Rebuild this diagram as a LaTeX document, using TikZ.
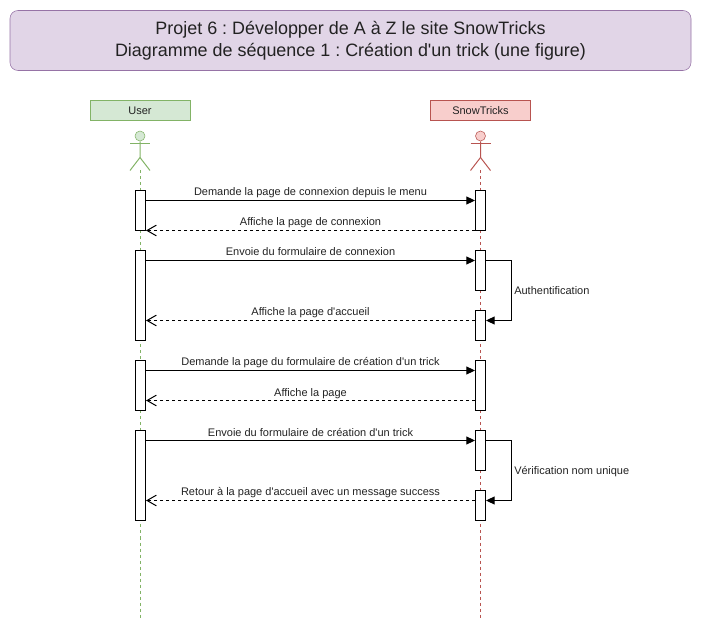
\documentclass[tikz,border=0pt]{standalone}
\usepackage{fontspec}
\setmainfont{Liberation Sans}
\usepackage{xcolor}
\usetikzlibrary{arrows.meta}
\definecolor{titlefill}{HTML}{E1D5E7}
\definecolor{titleline}{HTML}{9673A6}
\definecolor{userfill}{HTML}{D5E8D4}
\definecolor{userline}{HTML}{82B366}
\definecolor{snowfill}{HTML}{F8CECC}
\definecolor{snowline}{HTML}{B85450}
\definecolor{inktext}{HTML}{222222}
\frenchspacing
\tikzset{
  titlebox/.style={draw=titleline, fill=titlefill, rounded corners=6pt, minimum width=510.75pt, minimum height=45pt, align=center, inner sep=0pt, text=inktext, font=\fontsize{13.45}{16.5}\selectfont},
  headbox/.style={minimum width=75pt, minimum height=15pt, inner sep=0pt, text=inktext, font=\fontsize{8.25}{10}\selectfont},
  activebox/.style={draw=black, fill=white, line width=0.75pt, minimum width=7.5pt, inner sep=0pt},
  lifeline/.style={dash pattern=on 2.25pt off 2.25pt, line width=0.75pt},
  call/.style={line width=0.75pt, -{Triangle[length=6.5pt, width=6pt]}},
  answer/.style={line width=0.75pt, dash pattern=on 2.25pt off 2.25pt, -{Straight Barb[length=7pt, width=8pt]}},
  msg/.style={inner sep=0pt, text=inktext, text depth=0pt, font=\fontsize{8.25}{10}\selectfont},
}
\begin{document}
\begin{tikzpicture}[x=0.75pt, y=-0.75pt]
\useasboundingbox (0, -0.5) rectangle (701, 630.5);
\node[titlebox] (title) at (350.5, 40) {Projet 6 : Développer de A à Z le site SnowTricks\\Diagramme de séquence 1 : Création d\textquotesingle un trick (une figure)};
% participants
\node[headbox, draw=userline, fill=userfill] (user) at (140, 110) {User};
\node[headbox, draw=snowline, fill=snowfill] (snow) at (480.5, 110) {SnowTricks};
% user actor
\node[draw=userline, fill=userfill, circle, minimum size=7.5pt, inner sep=0pt] (userhead) at (140, 135.5) {};
\coordinate (userneck) at (140, 157);
\coordinate (userfoot) at (140, 170);
\coordinate (userend) at (140, 617);
\draw[userline, line width=0.75pt] (userhead) -- (userneck) -- (130, 170);
\draw[userline, line width=0.75pt] (userneck) -- (150, 170);
\draw[userline, line width=0.75pt] (130, 143) -- (150, 143);
\draw[userline, lifeline] (userfoot) -- (userend);
% snowtricks actor
\node[draw=snowline, fill=snowfill, circle, minimum size=7.5pt, inner sep=0pt] (snowhead) at (480.5, 135.5) {};
\coordinate (snowneck) at (480.5, 157);
\coordinate (snowfoot) at (480.5, 170);
\coordinate (snowend) at (480.5, 617);
\draw[snowline, line width=0.75pt] (snowhead) -- (snowneck) -- (470.5, 170);
\draw[snowline, line width=0.75pt] (snowneck) -- (490.5, 170);
\draw[snowline, line width=0.75pt] (470.5, 143) -- (490.5, 143);
\draw[snowline, lifeline] (snowfoot) -- (snowend);
% activations
\node[activebox, minimum height=30pt] (ua) at (140.5, 210) {};
\node[activebox, minimum height=67.5pt] (ub) at (140.5, 295) {};
\node[activebox, minimum height=37.5pt] (uc) at (140.5, 385) {};
\node[activebox, minimum height=67.5pt] (ud) at (140.5, 475) {};
\node[activebox, minimum height=30pt] (sa) at (480.5, 210) {};
\node[activebox, minimum height=30pt] (sb) at (480.5, 270) {};
\node[activebox, minimum height=22.5pt] (sc) at (480.5, 325) {};
\node[activebox, minimum height=37.5pt] (sd) at (480.5, 385) {};
\node[activebox, minimum height=30pt] (se) at (480.5, 450) {};
\node[activebox, minimum height=22.5pt] (sf) at (480.5, 505) {};
% messages
\coordinate (ma) at (0, 200);
\coordinate (mb) at (0, 230);
\coordinate (mc) at (0, 260);
\coordinate (md) at (0, 320);
\coordinate (me) at (0, 370);
\coordinate (mf) at (0, 400);
\coordinate (mg) at (0, 440);
\coordinate (mh) at (0, 500);
\draw[call] (ua.east |- ma) -- (sa.west |- ma) node[msg, midway, above=3pt] (la) {Demande la page de connexion depuis le menu};
\draw[answer] (sa.west |- mb) -- (ua.east |- mb) node[msg, midway, above=3pt] (lb) {Affiche la page de connexion};
\draw[call] (ub.east |- mc) -- (sb.west |- mc) node[msg, midway, above=3pt] (lc) {Envoie du formulaire de connexion};
\draw[answer] (sc.west |- md) -- (ub.east |- md) node[msg, midway, above=3pt] (ld) {Affiche la page d\textquotesingle accueil};
\draw[call] (uc.east |- me) -- (sd.west |- me) node[msg, midway, above=3pt] (le) {Demande la page du formulaire de création d\textquotesingle un trick};
\draw[answer] (sd.west |- mf) -- (uc.east |- mf) node[msg, midway, above=3pt] (lf) {Affiche la page};
\draw[call] (ud.east |- mg) -- (se.west |- mg) node[msg, midway, above=3pt] (lg) {Envoie du formulaire de création d\textquotesingle un trick};
\draw[answer] (sf.west |- mh) -- (ud.east |- mh) node[msg, midway, above=3pt] (lh) {Retour à la page d\textquotesingle accueil avec un message success};
% self calls
\coordinate (loopa) at (511, 260);
\coordinate (loopb) at (511, 320);
\coordinate (loopc) at (511, 440);
\coordinate (loopd) at (511, 500);
\draw[call] (sb.east |- loopa) -- (loopa) -- (loopb) -- (sc.east |- loopb);
\draw[call] (se.east |- loopc) -- (loopc) -- (loopd) -- (sf.east |- loopd);
\node[msg, anchor=base west] (auth) at (514, 294) {Authentification};
\node[msg, anchor=base west] (check) at (514, 474) {Vérification nom unique};
\end{tikzpicture}
\end{document}
